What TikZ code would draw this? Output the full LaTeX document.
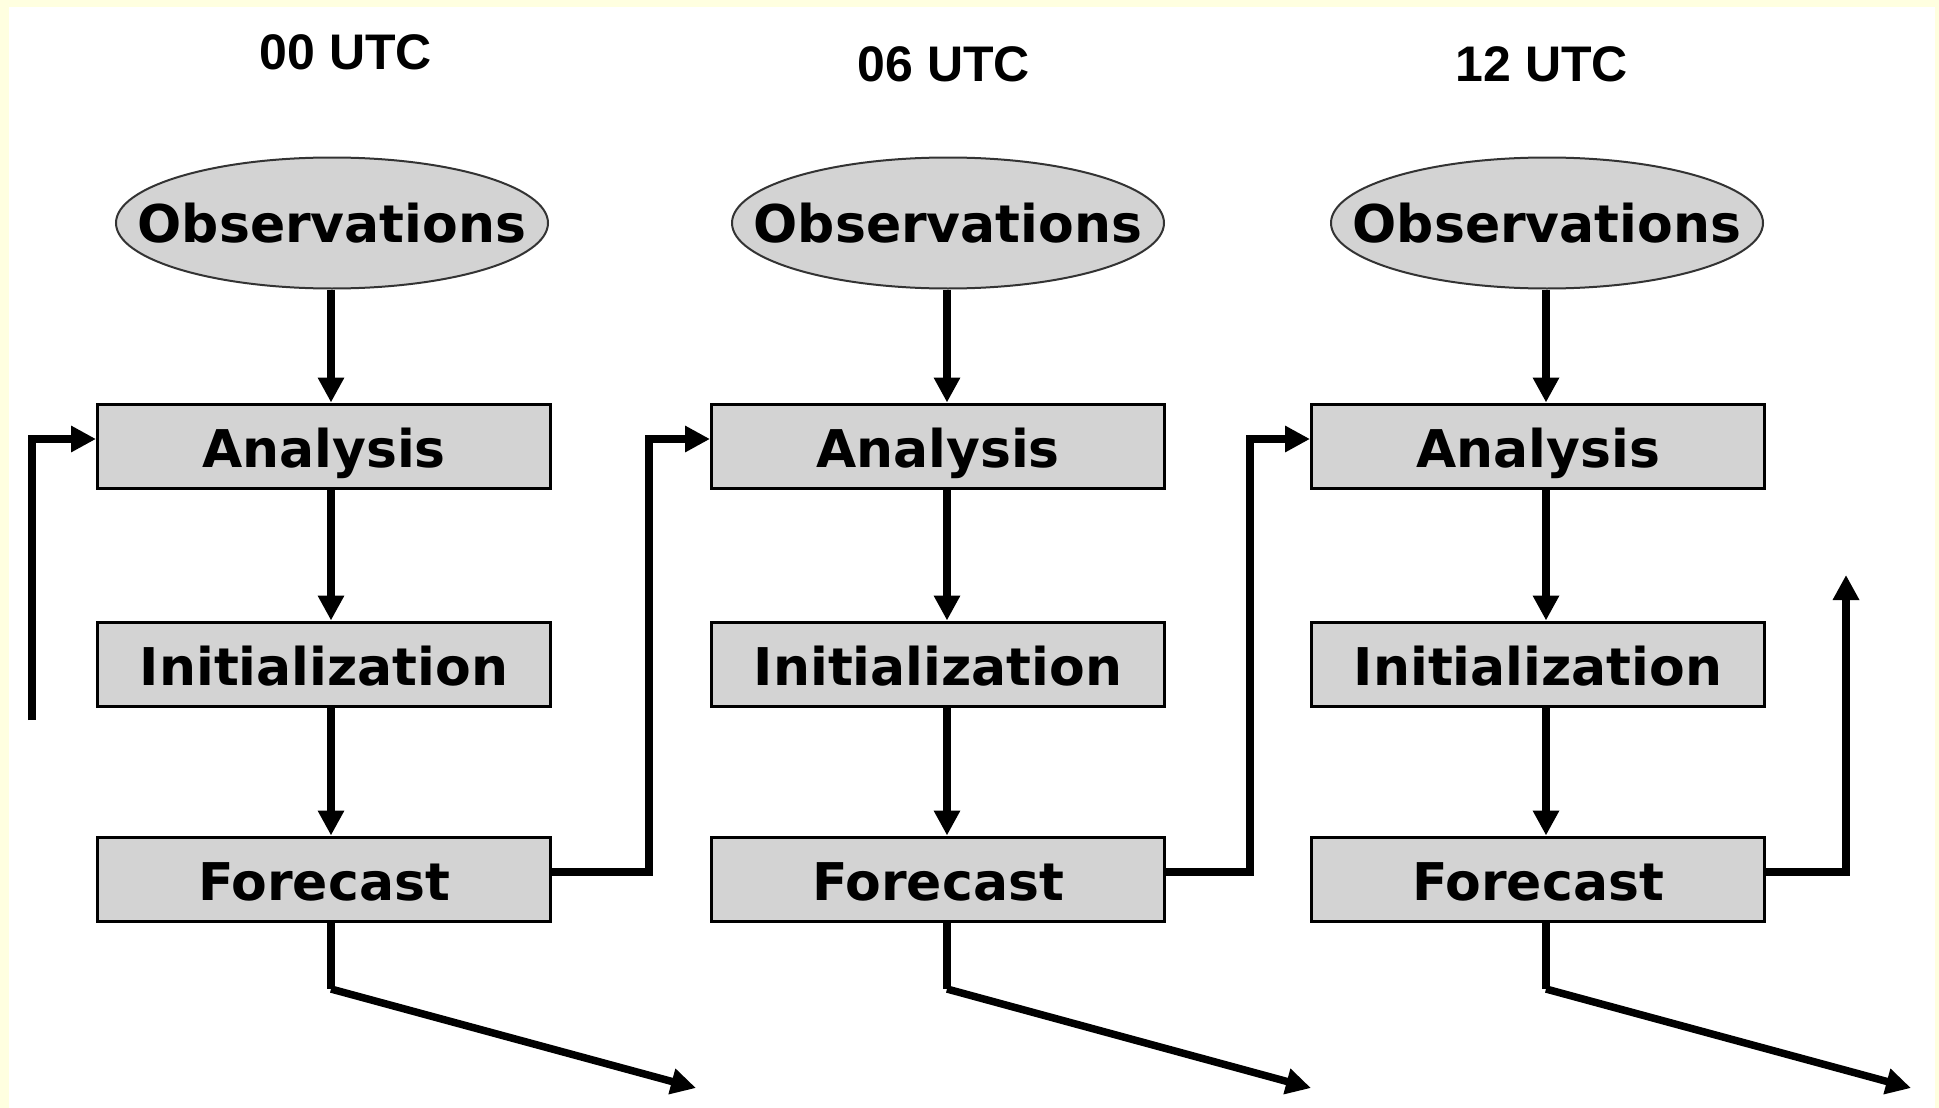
\documentclass[tikz,border=0pt]{standalone}
\usepackage{fontspec}
\setmainfont{DejaVu Sans}
\newfontfamily\titlefont{Liberation Sans}
\usetikzlibrary{arrows.meta,shapes.geometric}
\definecolor{frameyellow}{RGB}{255,255,224}
\definecolor{boxgray}{RGB}{211,211,211}
\begin{document}
\begin{tikzpicture}[x=1pt,y=-1pt,
  boxnode/.style={draw=black,line width=3pt,fill=boxgray,minimum width=453pt,minimum height=84pt,inner sep=0pt,
    text height=43pt,text depth=0pt,
    font=\fontsize{52}{60}\selectfont\bfseries},
  obsnode/.style={ellipse,draw=black!80,line width=2pt,fill=boxgray,minimum width=432pt,minimum height=131pt,
    inner xsep=-45pt,inner ysep=0pt,
    font=\fontsize{52}{60}\selectfont\bfseries},
  titlenode/.style={font=\titlefont\fontsize{50}{58}\selectfont\bfseries,inner sep=0pt},
  flow/.style={line width=7.5pt,-{Triangle[length=25pt,width=25pt]}},
  link/.style={line width=7.5pt}
]
\useasboundingbox (0,0) rectangle (1939,1108);
\fill[frameyellow] (0,0) rectangle (1939,1108);
\fill[white] (9,7) rectangle (1935,1108);

% column 1
\node[titlenode] (t1) at (346,52) {00 UTC};
\node[obsnode] (o1) at (332,223) {Observations};
\node[boxnode] (a1) at (324,446) {Analysis};
\node[boxnode] (i1) at (324,664) {Initialization};
\node[boxnode] (f1) at (324,879) {Forecast};
% column 2
\node[titlenode] (t2) at (944,64) {06 UTC};
\node[obsnode] (o2) at (948,223) {Observations};
\node[boxnode] (a2) at (938,446) {Analysis};
\node[boxnode] (i2) at (938,664) {Initialization};
\node[boxnode] (f2) at (938,879) {Forecast};
% column 3
\node[titlenode] (t3) at (1542,64) {12 UTC};
\node[obsnode] (o3) at (1547,223) {Observations};
\node[boxnode] (a3) at (1538,446) {Analysis};
\node[boxnode] (i3) at (1538,664) {Initialization};
\node[boxnode] (f3) at (1538,879) {Forecast};

% free ends
\coordinate (in1) at (32,720);
\coordinate (k1) at (331,989);
\coordinate (e1) at (696,1088);
\coordinate (k2) at (947,989);
\coordinate (e2) at (1311,1088);
\coordinate (k3) at (1546,989);
\coordinate (e3) at (1911,1088);
\coordinate (up3) at (1846,575);

\foreach \c/\x in {1/331,2/947,3/1546}{
  \draw[flow] (o\c.south -| \x,0) -- (a\c.north -| \x,0);
  \draw[flow] (a\c.south -| \x,0) -- (i\c.north -| \x,0);
  \draw[flow] (i\c.south -| \x,0) -- (f\c.north -| \x,0);
}
\draw[link] (f1.south -| k1) -- (k1);
\draw[flow] (k1) -- (e1);
\draw[link] (f2.south -| k2) -- (k2);
\draw[flow] (k2) -- (e2);
\draw[link] (f3.south -| k3) -- (k3);
\draw[flow] (k3) -- (e3);

\draw[flow] (in1) |- ([yshift=7pt]a1.west);
\draw[flow] ([yshift=7pt]f1.east) -- ++(97,0) |- ([yshift=7pt]a2.west);
\draw[flow] ([yshift=7pt]f2.east) -- ++(84,0) |- ([yshift=7pt]a3.west);
\draw[flow] ([yshift=7pt]f3.east) -| (up3);
\end{tikzpicture}
\end{document}
